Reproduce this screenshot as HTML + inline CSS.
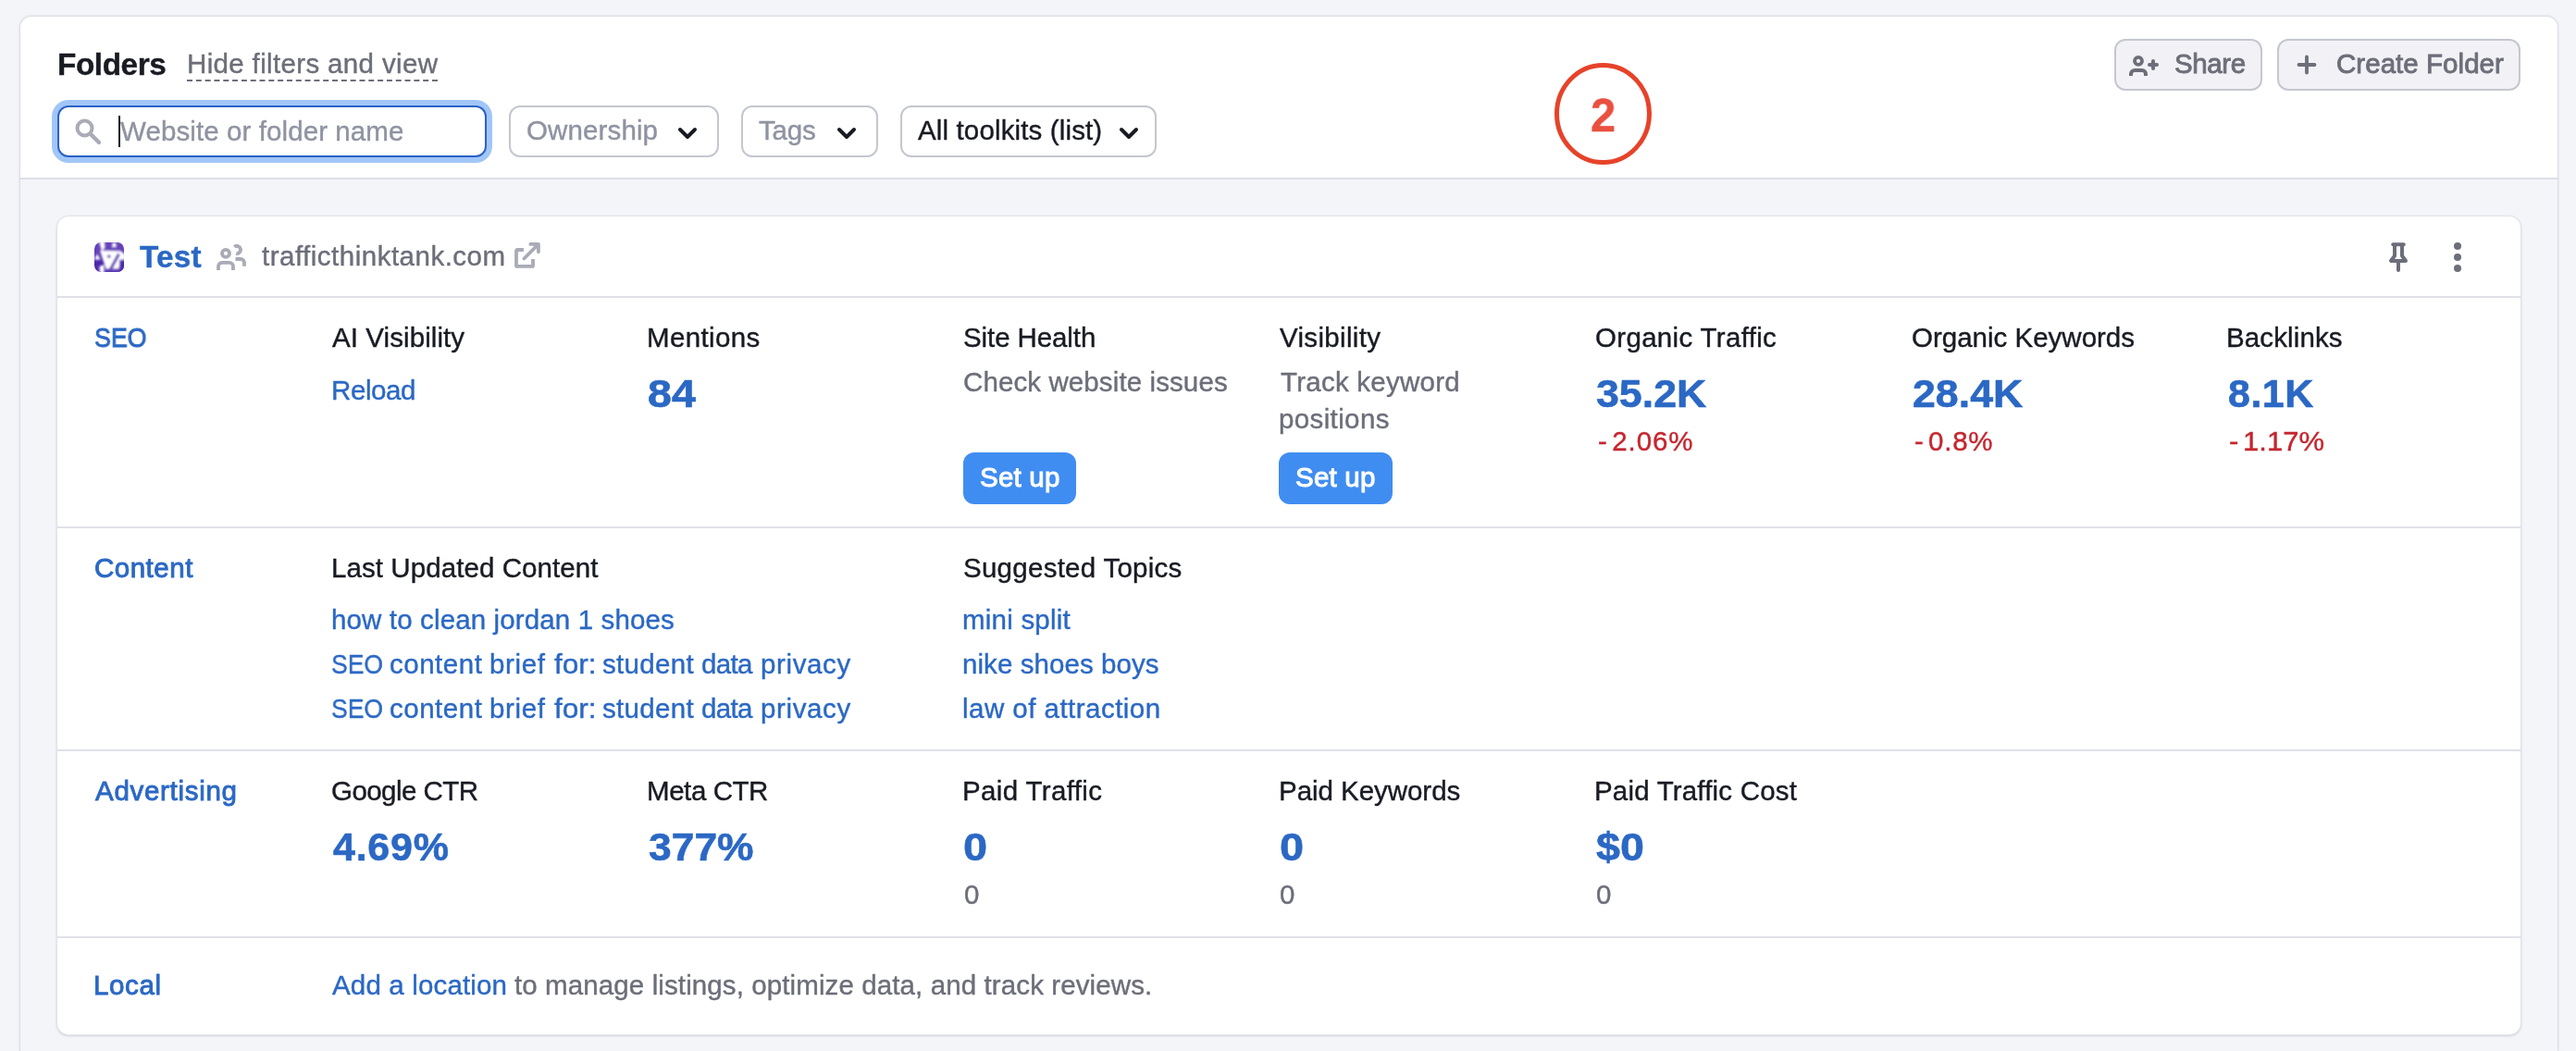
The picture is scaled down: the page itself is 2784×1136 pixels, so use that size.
<!DOCTYPE html>
<html lang="en">
<head>
<meta charset="utf-8">
<title>Folders</title>
<style>
html,body{margin:0;padding:0}
html{width:2784px;height:1136px;overflow:hidden}
body{width:2784px;height:1136px;overflow:hidden;position:relative;background:#f4f5f9;font-family:"Liberation Sans",sans-serif}
.t{position:absolute;white-space:nowrap;line-height:60px;transform-origin:0 50%;will-change:transform;-webkit-font-smoothing:antialiased;-webkit-text-stroke:0.4px}
.abs{position:absolute;box-sizing:border-box}
#panel{left:21px;top:17px;width:2744px;height:1119px;border:1px solid #dcdde5;border-bottom:0;border-radius:13px 13px 0 0;background:#f4f5f9;box-shadow:0 0 3px rgba(25,27,35,.10)}
#phead{left:22px;top:18px;width:2742px;height:174px;background:#fff;border-radius:12px 12px 0 0}
#pline{left:22px;top:192px;width:2742px;height:2px;background:#dddee6}
.btn{border:2px solid #c4c7cf;border-radius:12px;background:#fff}
.btn.g{background:#f2f2f6}
#card{left:61px;top:233px;width:2664px;height:886px;border:1px solid #e2e3ea;border-radius:13px;background:#fff;box-shadow:0 1px 2.5px rgba(25,27,35,.15)}
.hl{left:62px;width:2662px;height:2px;background:#e0e1e9}
.setup{background:#408df1;border-radius:12px}
</style>
</head>
<body>
<div class="abs" id="panel"></div>
<div class="abs" id="phead"></div>
<div class="abs" id="pline"></div>

<!-- search input -->
<div class="abs" style="left:56px;top:108px;width:476px;height:68px;border-radius:18px;background:#a1c6f7"></div>
<div class="abs" style="left:62px;top:114px;width:464px;height:56px;border-radius:12px;background:#fff;border:2px solid #2a62c8"></div>
<svg class="abs" style="left:79px;top:125.5px" width="32" height="32" viewBox="0 0 32 32"><circle cx="12.5" cy="12.5" r="8" fill="none" stroke="#a9abb6" stroke-width="4"/><path d="M18.5 18.5 L28 28" stroke="#a9abb6" stroke-width="4.4" stroke-linecap="round"/></svg>
<div class="abs" style="left:128px;top:125px;width:2px;height:34px;background:#191b23"></div>

<!-- filter buttons -->
<div class="abs btn" style="left:550px;top:114px;width:227px;height:56px"></div>
<div class="abs btn" style="left:801px;top:114px;width:148px;height:56px"></div>
<div class="abs btn" style="left:973px;top:114px;width:277px;height:56px"></div>
<svg class="abs" style="left:731px;top:134px" width="24" height="20" viewBox="0 0 24 20"><path d="M4 6 L12 14 L20 6" fill="none" stroke="#191b23" stroke-width="4" stroke-linecap="round" stroke-linejoin="round"/></svg>
<svg class="abs" style="left:903px;top:134px" width="24" height="20" viewBox="0 0 24 20"><path d="M4 6 L12 14 L20 6" fill="none" stroke="#191b23" stroke-width="4" stroke-linecap="round" stroke-linejoin="round"/></svg>
<svg class="abs" style="left:1208px;top:134px" width="24" height="20" viewBox="0 0 24 20"><path d="M4 6 L12 14 L20 6" fill="none" stroke="#191b23" stroke-width="4" stroke-linecap="round" stroke-linejoin="round"/></svg>

<!-- circle annotation -->
<svg class="abs" style="left:1670px;top:60px" width="126" height="126" viewBox="0 0 126 126"><ellipse cx="62.5" cy="63" rx="50" ry="52.5" fill="none" stroke="#e6432a" stroke-width="5"/></svg>

<!-- right buttons -->
<div class="abs btn g" style="left:2285px;top:42px;width:160px;height:56px"></div>
<div class="abs btn g" style="left:2461px;top:42px;width:263px;height:56px"></div>
<svg class="abs" style="left:2299px;top:56px" width="36" height="30" viewBox="0 0 36 30"><circle cx="12" cy="9.9" r="4" fill="none" stroke="#6c6e79" stroke-width="3.8"/><path d="M4 26 v-2 a4 4 0 0 1 4-4 h8 a4 4 0 0 1 4 4 v2" fill="none" stroke="#6c6e79" stroke-width="4"/><path d="M28 10 v8 M24 14 h8" stroke="#6c6e79" stroke-width="4" stroke-linecap="round"/></svg>
<svg class="abs" style="left:2481px;top:58px" width="24" height="24" viewBox="0 0 24 24"><path d="M12 3.5 v17 M3.5 12 h17" stroke="#6c6e79" stroke-width="3.8" stroke-linecap="round"/></svg>

<!-- card -->
<div class="abs" id="card"></div>
<div class="abs hl" style="top:320px"></div>
<div class="abs hl" style="top:569px"></div>
<div class="abs hl" style="top:810px"></div>
<div class="abs hl" style="top:1012px"></div>

<!-- favicon -->
<svg class="abs" style="left:102px;top:262px" width="32" height="32" viewBox="0 0 32 32"><defs><linearGradient id="fg" x1="0" y1="0" x2="0" y2="1"><stop offset="0" stop-color="#6744bb"/><stop offset="0.55" stop-color="#6040b6"/><stop offset="0.68" stop-color="#4b27a9"/><stop offset="1" stop-color="#5531af"/></linearGradient><clipPath id="fc"><rect width="32" height="32" rx="7"/></clipPath><filter id="fb" x="-10%" y="-10%" width="120%" height="120%"><feGaussianBlur stdDeviation="1.1"/></filter></defs><rect width="32" height="32" rx="7" fill="url(#fg)"/><g clip-path="url(#fc)"><g filter="url(#fb)"><path d="M6 8.8 L28.5 9.3 L33 13 L33 18.5 L27.5 19 L26.5 28.8 L13 30 Z" fill="#fff"/><path d="M5 -1 L11 -1 L11.5 6 L8 9.5 Z" fill="#fff"/><path d="M19.5 0.5 L23.5 0.5 L23.5 5 L19 5 Z" fill="#fff"/><path d="M0 18.5 L3 12.5 L6.5 18.5 Z" fill="#fff"/><path d="M5.5 26 L10.5 24 L10.5 33 L6 33 Z" fill="#fff"/><path d="M26.5 12.5 L17 30" stroke="#5d3cb5" stroke-width="3.1" fill="none"/><path d="M10.5 6.9 H27" stroke="#6443b8" stroke-width="2.6" fill="none"/><path d="M10.5 29.6 H26" stroke="#6a4abb" stroke-width="2.4" fill="none"/><path d="M27.5 20 L33 19.5 L33 33 L26 33 L26.8 28 Z" fill="#4f2bab"/><circle cx="15.7" cy="15.2" r="1.9" fill="#7b5ec5"/></g></g></svg>
<!-- users icon -->
<svg class="abs" style="left:232px;top:262px" width="36" height="32" viewBox="0 0 36 32"><g fill="none" stroke="#a9abb6" stroke-width="3.8"><circle cx="12" cy="11.9" r="4"/><path d="M4 29.9 V25.8 a4 4 0 0 1 4-4 h8 a4 4 0 0 1 4 4 V29.9"/><path d="M21.26 4.86 A4.1 4.1 0 1 1 23.19 12.04"/><path d="M22.5 18 H28 a4 4 0 0 1 4 4 V25.8"/></g></svg>
<!-- external link -->
<svg class="abs" style="left:554px;top:260px" width="32" height="32" viewBox="0 0 32 32"><g fill="none" stroke="#a9abb6" stroke-width="3.8"><path d="M11.9 10 H5 a1 1 0 0 0 -1 1 V26.9 a1 1 0 0 0 1 1 H21 a1 1 0 0 0 1 -1 V20"/><path d="M19.3 3.9 H27.9 V12.2 M27.9 3.9 L12.4 19.5" stroke-linecap="round" stroke-linejoin="round"/></g></svg>
<!-- pin -->
<svg class="abs" style="left:2580px;top:260px" width="24" height="36" viewBox="0 0 24 36"><path d="M6.2 4.2 H17.8 M8 4.2 V16.5 L4 22 H20 L16 16.5 V4.2 M12 22 V32" fill="none" stroke="#6c6e79" stroke-width="4" stroke-linecap="round" stroke-linejoin="round"/></svg>
<!-- kebab -->
<div class="abs" style="left:2652px;top:262px;width:8px;height:8px;border-radius:4px;background:#6c6e79"></div>
<div class="abs" style="left:2652px;top:274px;width:8px;height:8px;border-radius:4px;background:#6c6e79"></div>
<div class="abs" style="left:2652px;top:286px;width:8px;height:8px;border-radius:4px;background:#6c6e79"></div>

<!-- set up buttons -->
<div class="abs setup" style="left:1041px;top:489px;width:122px;height:56px"></div>
<div class="abs setup" style="left:1382px;top:489px;width:123px;height:56px"></div>

<!-- hide filters dashed underline -->
<div class="abs" style="left:202px;top:86px;width:271px;height:0;border-top:2px dashed #6c6e79"></div>

<div class="t" style="left:61.8px;top:40px;font-size:33.3px;font-weight:bold;color:#191b23;letter-spacing:-0.417px;">Folders</div>
<div class="t" style="left:201.7px;top:39px;font-size:29.5px;color:#6c6e79;letter-spacing:0.350px;">Hide filters and view</div>
<div class="t" style="left:130.0px;top:112px;font-size:29.5px;color:#8f93a1;letter-spacing:0.095px;">Website or folder name</div>
<div class="t" style="left:569.0px;top:111px;font-size:29.5px;color:#8f93a1;letter-spacing:0.125px;">Ownership</div>
<div class="t" style="left:820.0px;top:111px;font-size:29.5px;color:#8f93a1;letter-spacing:-0.167px;">Tags</div>
<div class="t" style="left:992.0px;top:111px;font-size:29.5px;color:#191b23;letter-spacing:0.139px;">All toolkits (list)</div>
<div class="t" style="left:2349.5px;top:39px;font-size:29.5px;color:#6c6e79;letter-spacing:-0.375px;-webkit-text-stroke:0.9px #6c6e79">Share</div>
<div class="t" style="left:2525.0px;top:39px;font-size:29.5px;color:#6c6e79;letter-spacing:0.042px;-webkit-text-stroke:0.9px #6c6e79">Create Folder</div>
<div class="t" style="left:1718.5px;top:95px;font-size:50px;font-weight:bold;color:#e9503f;transform:scaleX(0.9800);">2</div>
<div class="t" style="left:151.0px;top:248px;font-size:33.3px;font-weight:bold;color:#2b68c4;letter-spacing:0.167px;">Test</div>
<div class="t" style="left:283.0px;top:247px;font-size:29.5px;color:#6c6e79;letter-spacing:0.500px;">trafficthinktank.com</div>
<div class="t" style="left:102.1px;top:335px;font-size:29.5px;color:#2b68c4;transform:scaleX(0.9083);-webkit-text-stroke:0.9px #2b68c4">SEO</div>
<div class="t" style="left:359.0px;top:335px;font-size:29.5px;color:#191b23;letter-spacing:0.083px;">AI Visibility</div>
<div class="t" style="left:357.5px;top:392px;font-size:29.5px;color:#2b68c4;letter-spacing:-0.400px;">Reload</div>
<div class="t" style="left:699.0px;top:335px;font-size:29.5px;color:#191b23;letter-spacing:0.357px;">Mentions</div>
<div class="t" style="left:700.4px;top:395px;font-size:43px;font-weight:bold;color:#2b68c4;transform:scaleX(1.0851);-webkit-text-stroke:0.6px #2b68c4">84</div>
<div class="t" style="left:1041.0px;top:335px;font-size:29.5px;color:#191b23;letter-spacing:-0.100px;">Site Health</div>
<div class="t" style="left:1041.0px;top:383px;font-size:29.5px;color:#6c6e79;letter-spacing:0.105px;">Check website issues</div>
<div class="t" style="left:1058.5px;top:486px;font-size:29.5px;color:#fff;letter-spacing:0.200px;-webkit-text-stroke:1px #fff">Set up</div>
<div class="t" style="left:1383.0px;top:335px;font-size:29.5px;color:#191b23;letter-spacing:0.333px;">Visibility</div>
<div class="t" style="left:1383.5px;top:383px;font-size:29.5px;color:#6c6e79;letter-spacing:0.250px;">Track keyword</div>
<div class="t" style="left:1381.5px;top:423px;font-size:29.5px;color:#6c6e79;letter-spacing:0.375px;">positions</div>
<div class="t" style="left:1399.5px;top:486px;font-size:29.5px;color:#fff;letter-spacing:0.200px;-webkit-text-stroke:1px #fff">Set up</div>
<div class="t" style="left:1723.5px;top:335px;font-size:29.5px;color:#191b23;letter-spacing:0.321px;">Organic Traffic</div>
<div class="t" style="left:1725.0px;top:395px;font-size:43px;font-weight:bold;color:#2b68c4;transform:scaleX(1.0395);-webkit-text-stroke:0.6px #2b68c4">35.2K</div>
<div class="t" style="left:1727.0px;top:447px;font-size:29.5px;color:#c4262f;letter-spacing:0.900px;"><span style="margin-right:4.5px">-</span>2.06%</div>
<div class="t" style="left:2065.5px;top:335px;font-size:29.5px;color:#191b23;">Organic Keywords</div>
<div class="t" style="left:2066.5px;top:395px;font-size:43px;font-weight:bold;color:#2b68c4;transform:scaleX(1.0395);-webkit-text-stroke:0.6px #2b68c4">28.4K</div>
<div class="t" style="left:2068.5px;top:447px;font-size:29.5px;color:#c4262f;letter-spacing:0.750px;"><span style="margin-right:4.5px">-</span>0.8%</div>
<div class="t" style="left:2406.0px;top:335px;font-size:29.5px;color:#191b23;letter-spacing:0.125px;">Backlinks</div>
<div class="t" style="left:2407.5px;top:395px;font-size:43px;font-weight:bold;color:#2b68c4;letter-spacing:0.500px;-webkit-text-stroke:0.6px #2b68c4">8.1K</div>
<div class="t" style="left:2409.4px;top:447px;font-size:29.5px;color:#c4262f;transform:scaleX(1.0521);"><span style="margin-right:4.5px">-</span>1.17%</div>
<div class="t" style="left:102.0px;top:584px;font-size:29.5px;color:#2b68c4;letter-spacing:0.500px;-webkit-text-stroke:0.9px #2b68c4">Content</div>
<div class="t" style="left:357.5px;top:584px;font-size:29.5px;color:#191b23;letter-spacing:0.079px;">Last Updated Content</div>
<div class="t" style="left:357.5px;top:640px;font-size:29.5px;color:#2b68c4;letter-spacing:0.135px;">how to clean jordan 1 shoes</div>
<div class="t" style="left:358.1px;top:688px;font-size:29.5px;color:#2b68c4;transform:scaleX(0.9000);">SEO</div>
<div class="t" style="left:421.0px;top:688px;font-size:29.5px;color:#2b68c4;letter-spacing:0.517px;">content</div>
<div class="t" style="left:529.2px;top:688px;font-size:29.5px;color:#2b68c4;letter-spacing:0.650px;">brief</div>
<div class="t" style="left:598.8px;top:688px;font-size:29.5px;color:#2b68c4;transform:scaleX(1.0700);">for:</div>
<div class="t" style="left:650.7px;top:688px;font-size:29.5px;color:#2b68c4;letter-spacing:0.333px;">student</div>
<div class="t" style="left:757.7px;top:688px;font-size:29.5px;color:#2b68c4;letter-spacing:-0.633px;">data</div>
<div class="t" style="left:821.9px;top:688px;font-size:29.5px;color:#2b68c4;letter-spacing:0.617px;">privacy</div>
<div class="t" style="left:358.1px;top:736px;font-size:29.5px;color:#2b68c4;transform:scaleX(0.9000);">SEO</div>
<div class="t" style="left:421.0px;top:736px;font-size:29.5px;color:#2b68c4;letter-spacing:0.517px;">content</div>
<div class="t" style="left:529.2px;top:736px;font-size:29.5px;color:#2b68c4;letter-spacing:0.650px;">brief</div>
<div class="t" style="left:598.8px;top:736px;font-size:29.5px;color:#2b68c4;transform:scaleX(1.0700);">for:</div>
<div class="t" style="left:650.7px;top:736px;font-size:29.5px;color:#2b68c4;letter-spacing:0.333px;">student</div>
<div class="t" style="left:757.7px;top:736px;font-size:29.5px;color:#2b68c4;letter-spacing:-0.633px;">data</div>
<div class="t" style="left:821.9px;top:736px;font-size:29.5px;color:#2b68c4;letter-spacing:0.617px;">privacy</div>
<div class="t" style="left:1041.0px;top:584px;font-size:29.5px;color:#191b23;letter-spacing:0.267px;">Suggested Topics</div>
<div class="t" style="left:1040.0px;top:640px;font-size:29.5px;color:#2b68c4;letter-spacing:0.222px;">mini split</div>
<div class="t" style="left:1040.0px;top:688px;font-size:29.5px;color:#2b68c4;letter-spacing:0.071px;">nike shoes boys</div>
<div class="t" style="left:1040.0px;top:736px;font-size:29.5px;color:#2b68c4;letter-spacing:0.469px;">law of attraction</div>
<div class="t" style="left:103.0px;top:825px;font-size:29.5px;color:#2b68c4;letter-spacing:0.700px;-webkit-text-stroke:0.9px #2b68c4">Advertising</div>
<div class="t" style="left:358.0px;top:825px;font-size:29.5px;color:#191b23;letter-spacing:-0.556px;">Google CTR</div>
<div class="t" style="left:359.5px;top:885px;font-size:43px;font-weight:bold;color:#2b68c4;letter-spacing:0.750px;-webkit-text-stroke:0.6px #2b68c4">4.69%</div>
<div class="t" style="left:699.0px;top:825px;font-size:29.5px;color:#191b23;letter-spacing:-0.429px;">Meta CTR</div>
<div class="t" style="left:700.5px;top:885px;font-size:43px;font-weight:bold;color:#2b68c4;transform:scaleX(1.0324);-webkit-text-stroke:0.6px #2b68c4">377%</div>
<div class="t" style="left:1040.0px;top:825px;font-size:29.5px;color:#191b23;letter-spacing:0.364px;">Paid Traffic</div>
<div class="t" style="left:1041.4px;top:885px;font-size:43px;font-weight:bold;color:#2b68c4;transform:scaleX(1.0909);-webkit-text-stroke:0.6px #2b68c4">0</div>
<div class="t" style="left:1041.5px;top:937px;font-size:29.5px;color:#6c6e79;transform:scaleX(1.0000);">0</div>
<div class="t" style="left:1381.5px;top:825px;font-size:29.5px;color:#191b23;letter-spacing:-0.042px;">Paid Keywords</div>
<div class="t" style="left:1382.9px;top:885px;font-size:43px;font-weight:bold;color:#2b68c4;transform:scaleX(1.0909);-webkit-text-stroke:0.6px #2b68c4">0</div>
<div class="t" style="left:1383.0px;top:937px;font-size:29.5px;color:#6c6e79;transform:scaleX(1.0000);">0</div>
<div class="t" style="left:1723.0px;top:825px;font-size:29.5px;color:#191b23;letter-spacing:0.188px;">Paid Traffic Cost</div>
<div class="t" style="left:1725.0px;top:885px;font-size:43px;font-weight:bold;color:#2b68c4;transform:scaleX(1.0851);-webkit-text-stroke:0.6px #2b68c4">$0</div>
<div class="t" style="left:1724.5px;top:937px;font-size:29.5px;color:#6c6e79;transform:scaleX(1.0000);">0</div>
<div class="t" style="left:101.0px;top:1035px;font-size:29.5px;color:#2b68c4;letter-spacing:0.625px;-webkit-text-stroke:0.9px #2b68c4">Local</div>
<div class="t" style="left:359.0px;top:1035px;font-size:29.5px;color:#2b68c4;letter-spacing:0.154px;">Add a location</div>
<div class="t" style="left:555.5px;top:1035px;font-size:29.5px;color:#6c6e79;letter-spacing:0.106px;">to manage listings, optimize data, and track reviews.</div>
</body>
</html>
